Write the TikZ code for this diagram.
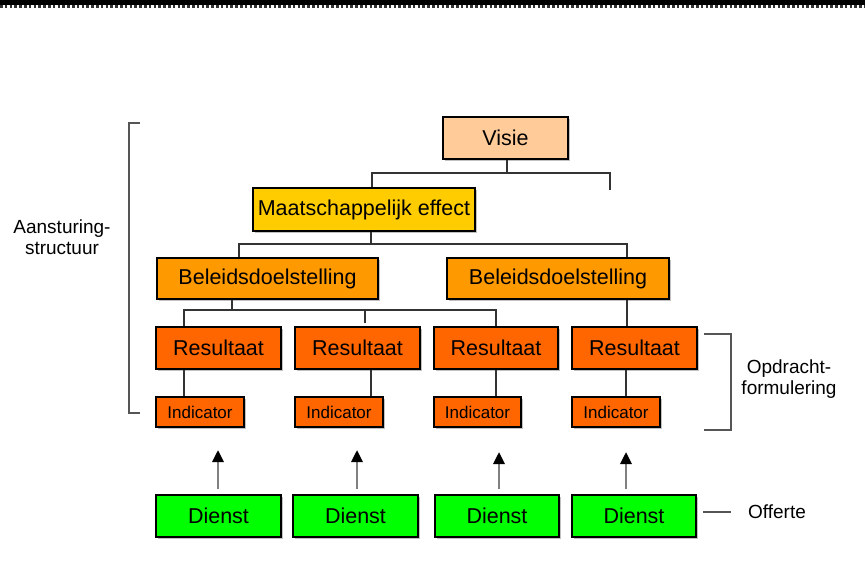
\documentclass[tikz,border=0pt]{standalone}
\usepackage{fontspec}
\setmainfont{Liberation Sans}
\usetikzlibrary{arrows.meta,shadows}
\definecolor{cVisie}{HTML}{FFCC99}
\definecolor{cMaat}{HTML}{FFCC00}
\definecolor{cBel}{HTML}{FF9900}
\definecolor{cRes}{HTML}{FF6600}
\definecolor{cDienst}{HTML}{00FF00}
\definecolor{cLine}{HTML}{333333}
\definecolor{cBrk}{HTML}{555555}
\begin{document}
\begin{tikzpicture}[x=1pt,y=-1pt,
  box/.style={draw=black, line width=1.1pt, inner sep=0pt, minimum height=42pt,
    font=\fontsize{21.5}{25}\selectfont,
    drop shadow={shadow xshift=1.8pt, shadow yshift=-1.8pt, fill=black!40, opacity=0.6}},
  smallbox/.style={box, minimum height=30pt, font=\fontsize{17}{20}\selectfont},
  conn/.style={draw=cLine, line width=1.2pt},
  brk/.style={draw=cBrk, line width=1.6pt},
  arr/.style={draw=black!50, line width=2.8pt, shorten <=5pt,
    -{Triangle[width=11pt,length=12pt,color=black]}},
  lbl/.style={font=\fontsize{19}{21}\selectfont, align=center, inner sep=0pt}]
\useasboundingbox (0,0) rectangle (865,578);
\fill[white] (0,0) rectangle (865,578);
% top bar
\fill[black] (0,0) rectangle (865,5.5);
\draw[black!80, line width=2.4pt, dash pattern=on 2.5pt off 2.3pt] (0,6.5) -- (865,6.5);

% boxes
\node[box, fill=cVisie, minimum width=125pt, minimum height=42pt] (visie) at (505.5,138) {Visie};
\node[box, fill=cMaat, minimum width=222pt, minimum height=43pt] (maat) at (364,209.5) {Maatschappelijk effect};
\node[box, fill=cBel, minimum width=221pt, minimum height=41pt] (bel1) at (267.5,278.5) {Beleidsdoelstelling};
\node[box, fill=cBel, minimum width=222pt, minimum height=41pt] (bel2) at (558,278.5) {Beleidsdoelstelling};

\node[box, fill=cRes, minimum width=125pt] (r1) at (218.5,348) {Resultaat};
\node[box, fill=cRes, minimum width=125pt] (r2) at (357.5,348) {Resultaat};
\node[box, fill=cRes, minimum width=124pt] (r3) at (496,348) {Resultaat};
\node[box, fill=cRes, minimum width=125pt] (r4) at (634.5,348) {Resultaat};

\node[smallbox, fill=cRes, minimum width=88pt] (i1) at (200,412) {Indicator};
\node[smallbox, fill=cRes, minimum width=88pt] (i2) at (339,412) {Indicator};
\node[smallbox, fill=cRes, minimum width=87pt] (i3) at (477.5,412) {Indicator};
\node[smallbox, fill=cRes, minimum width=88pt] (i4) at (616,412) {Indicator};

\node[box, fill=cDienst, minimum width=125pt] (d1) at (218.5,516) {Dienst};
\node[box, fill=cDienst, minimum width=125pt] (d2) at (355.5,516) {Dienst};
\node[box, fill=cDienst, minimum width=124pt] (d3) at (497,516) {Dienst};
\node[box, fill=cDienst, minimum width=124pt] (d4) at (634,516) {Dienst};

% connectors Visie
\coordinate (j1m) at (507,173);
\coordinate (j1l) at (372,173);
\coordinate (j1r) at (610,173);
\coordinate (j1e) at (610,190);
\draw[conn] (visie.south -| j1m) -- (j1m);
\draw[conn] (j1e) -- (j1r) -- (j1l) -- (j1l |- maat.north);

% connectors Maatschappelijk effect
\coordinate (j2m) at (371,244);
\coordinate (j2l) at (239,244);
\coordinate (j2r) at (627,244);
\draw[conn] (maat.south -| j2m) -- (j2m);
\draw[conn] (j2l |- bel1.north) -- (j2l) -- (j2r) -- (j2r |- bel2.north);

% connectors Beleidsdoelstelling 1
\coordinate (j3m) at (232,310);
\coordinate (j3l) at (184,310);
\coordinate (j3c) at (365,310);
\coordinate (j3ce) at (365,323);
\coordinate (j3r) at (496,310);
\draw[conn] (bel1.south -| j3m) -- (j3m);
\draw[conn] (j3l |- r1.north) -- (j3l) -- (j3r) -- (j3r |- r3.north);
\draw[conn] (j3c) -- (j3ce);

% Beleidsdoelstelling 2 -> Resultaat 4
\coordinate (j4) at (627,310);
\draw[conn] (bel2.south -| j4) -- (j4 |- r4.north);

% Resultaat -> Indicator
\coordinate (k1) at (184,380);
\coordinate (k2) at (371,380);
\coordinate (k3) at (496,380);
\coordinate (k4) at (626,380);
\draw[conn] (r1.south -| k1) -- (i1.north -| k1);
\draw[conn] (r2.south -| k2) -- (i2.north -| k2);
\draw[conn] (r3.south -| k3) -- (i3.north -| k3);
\draw[conn] (r4.south -| k4) -- (i4.north -| k4);

% arrows Dienst
\coordinate (a1) at (218,450);
\coordinate (a2) at (357,450);
\coordinate (a3) at (499,452);
\coordinate (a4) at (626,452);
\draw[arr] (d1.north -| a1) -- (a1);
\draw[arr] (d2.north -| a2) -- (a2);
\draw[arr] (d3.north -| a3) -- (a3);
\draw[arr] (d4.north -| a4) -- (a4);

% brackets
\coordinate (b1) at (140,123);
\coordinate (b2) at (129,123);
\coordinate (b3) at (129,413);
\coordinate (b4) at (140,413);
\draw[brk] (b1) -- (b2) -- (b3) -- (b4);
\coordinate (c1) at (704,334);
\coordinate (c2) at (731,334);
\coordinate (c3) at (731,430);
\coordinate (c4) at (704,430);
\draw[brk] (c1) -- (c2) -- (c3) -- (c4);
\coordinate (o1) at (703,512);
\coordinate (o2) at (731,512);
\draw[brk] (o1) -- (o2);

% labels
\node[lbl] (aanst) at (62,237) {Aansturing-\\structuur};
\node[lbl] (opdr) at (789,379) {Opdracht-\\formulering};
\node[lbl] (off) at (777,512) {Offerte};
\end{tikzpicture}
\end{document}
